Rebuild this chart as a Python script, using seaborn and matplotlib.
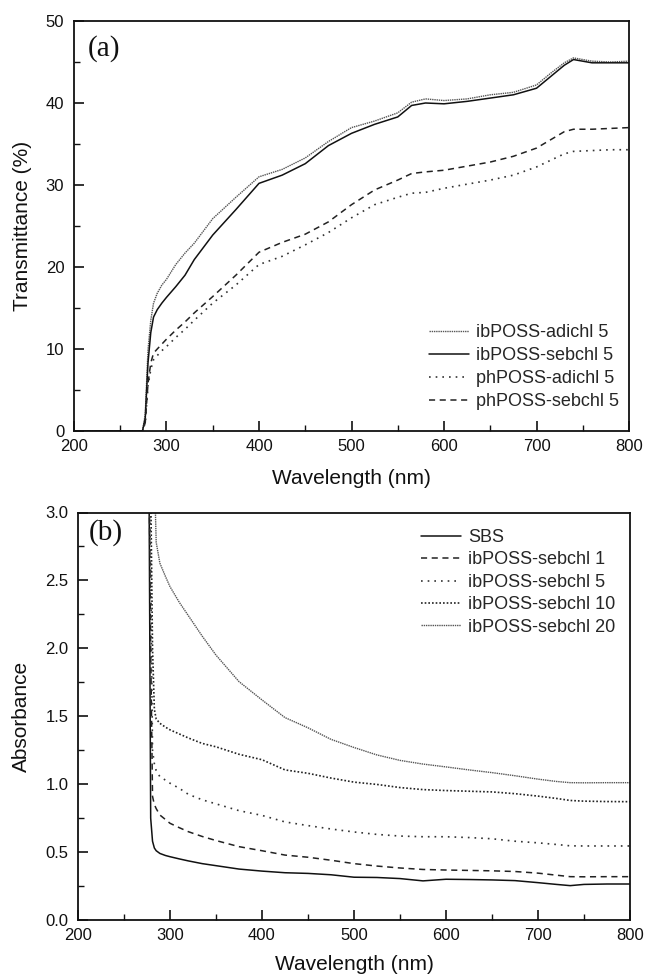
import numpy as np
import pandas as pd
import matplotlib
matplotlib.use("Agg")
import matplotlib.pyplot as plt
from matplotlib.ticker import MultipleLocator, FormatStrFormatter
import seaborn as sns

# ---------------- Panel (a) data: Transmittance (%) ----------------
wl_a = [200, 274, 277, 280, 283, 286, 290, 295, 300, 310, 320, 330, 350, 375, 400,
        425, 450, 475, 500, 525, 550, 565, 580, 600, 625, 650, 675, 700, 715, 730,
        740, 760, 780, 800]
ib_adichl5 = [0, 0, 2.0, 9.9, 13.5, 15.6, 16.8, 17.8, 18.5, 20.3, 21.7, 22.9, 25.9, 28.5, 31.0,
              31.9, 33.3, 35.3, 37.0, 37.8, 38.8, 40.1, 40.5, 40.3, 40.5, 41.0, 41.3, 42.2, 43.6, 44.9,
              45.5, 45.1, 45.0, 45.1]
ib_sebchl5 = [0, 0, 1.5, 8.3, 12.0, 13.9, 14.8, 15.6, 16.3, 17.6, 19.0, 20.9, 23.9, 27.0, 30.2,
              31.2, 32.6, 34.8, 36.3, 37.4, 38.3, 39.7, 40.0, 39.9, 40.2, 40.6, 41.0, 41.8, 43.2, 44.6,
              45.3, 44.9, 44.9, 44.9]
ph_adichl5 = [0, 0, 1.0, 5.5, 7.5, 8.7, 9.2, 9.8, 10.3, 11.4, 12.4, 13.5, 15.6, 17.8, 20.3,
              21.3, 22.7, 24.2, 26.0, 27.6, 28.5, 29.0, 29.1, 29.6, 30.1, 30.6, 31.2, 32.2, 33.0, 33.8,
              34.1, 34.2, 34.3, 34.3]
ph_sebchl5 = [0, 0, 1.0, 5.8, 8.3, 9.5, 10.0, 10.6, 11.2, 12.3, 13.3, 14.4, 16.4, 19.0, 21.8,
              23.0, 24.0, 25.5, 27.6, 29.4, 30.6, 31.4, 31.6, 31.8, 32.3, 32.8, 33.5, 34.5, 35.5, 36.5,
              36.8, 36.8, 36.9, 37.0]
labels_a = ["ibPOSS-adichl 5", "ibPOSS-sebchl 5", "phPOSS-adichl 5", "phPOSS-sebchl 5"]

# ---------------- Panel (b) data: Absorbance ----------------
wl_b = [275, 277, 279, 281, 283, 285, 289, 295, 300, 310, 320, 335, 350, 375, 400, 425,
        450, 475, 500, 525, 550, 575, 600, 625, 650, 675, 700, 720, 735, 750, 775, 800]
sbs = [3.5, 3.5, 0.75, 0.58, 0.53, 0.51, 0.49, 0.475, 0.466, 0.45, 0.435, 0.415, 0.40, 0.375, 0.36, 0.348,
       0.343, 0.333, 0.315, 0.313, 0.305, 0.288, 0.30, 0.298, 0.295, 0.29, 0.275, 0.262, 0.253, 0.262, 0.265, 0.265]
sebchl1 = [3.5, 3.5, 2.0, 0.91, 0.85, 0.82, 0.773, 0.74, 0.712, 0.68, 0.65, 0.615, 0.585, 0.54, 0.51, 0.478,
           0.462, 0.44, 0.415, 0.397, 0.383, 0.372, 0.368, 0.365, 0.362, 0.357, 0.345, 0.33, 0.319, 0.318, 0.319, 0.319]
sebchl5 = [3.5, 3.5, 2.6, 1.25, 1.15, 1.1, 1.055, 1.03, 1.007, 0.97, 0.925, 0.885, 0.855, 0.805, 0.77, 0.722,
           0.695, 0.67, 0.648, 0.63, 0.618, 0.613, 0.613, 0.607, 0.598, 0.58, 0.568, 0.556, 0.546, 0.545, 0.545, 0.545]
sebchl10 = [3.5, 3.5, 3.2, 2.0, 1.55, 1.48, 1.448, 1.42, 1.40, 1.37, 1.34, 1.30, 1.275, 1.22, 1.18, 1.105,
            1.08, 1.045, 1.015, 0.998, 0.975, 0.96, 0.953, 0.948, 0.943, 0.93, 0.912, 0.895, 0.88, 0.875, 0.872, 0.871]
sebchl20 = [3.5, 3.5, 3.5, 3.5, 3.3, 2.78, 2.627, 2.53, 2.454, 2.34, 2.24, 2.09, 1.95, 1.755, 1.62, 1.49,
            1.415, 1.33, 1.27, 1.215, 1.175, 1.148, 1.127, 1.105, 1.085, 1.062, 1.037, 1.02, 1.011, 1.01, 1.011, 1.011]
labels_b = ["SBS", "ibPOSS-sebchl 1", "ibPOSS-sebchl 5", "ibPOSS-sebchl 10", "ibPOSS-sebchl 20"]

sns.set_theme(style="white")
plt.rcParams['font.family'] = ['Liberation Sans', 'DejaVu Sans']

fig = plt.figure(figsize=(6.47, 9.77), dpi=100)
ax1 = fig.add_axes([74/647, 1-431/977, 555/647, 410/977])
ax2 = fig.add_axes([78/647, 1-920/977, 552/647, 407.5/977])

styles_a = [
    dict(color="#555555", linestyle=(0, (1, 0.6)), linewidth=1.0),
    dict(color="#111111", linestyle="-", linewidth=1.1),
    dict(color="#333333", linestyle=(0, (1, 3)), linewidth=1.2),
    dict(color="#222222", linestyle=(0, (4, 3)), linewidth=1.1),
]
for y, lab, st in zip([ib_adichl5, ib_sebchl5, ph_adichl5, ph_sebchl5], labels_a, styles_a):
    df = pd.DataFrame({"wl": wl_a, "v": y})
    sns.lineplot(data=df, x="wl", y="v", ax=ax1, label=lab, **st)

styles_b = [
    dict(color="#111111", linestyle="-", linewidth=1.1),
    dict(color="#222222", linestyle=(0, (4, 3)), linewidth=1.1),
    dict(color="#333333", linestyle=(0, (1, 3)), linewidth=1.2),
    dict(color="#222222", linestyle=(0, (1, 1.2)), linewidth=1.2),
    dict(color="#555555", linestyle=(0, (1, 0.6)), linewidth=1.0),
]
for y, lab, st in zip([sbs, sebchl1, sebchl5, sebchl10, sebchl20], labels_b, styles_b):
    df = pd.DataFrame({"wl": wl_b, "v": y})
    sns.lineplot(data=df, x="wl", y="v", ax=ax2, label=lab, **st)

ax1.set_xlim(200, 800)
ax1.set_ylim(0, 50)
ax2.set_xlim(200, 800)
ax2.set_ylim(0, 3.0)

ax1.xaxis.set_major_locator(MultipleLocator(100))
ax1.xaxis.set_minor_locator(MultipleLocator(50))
ax1.yaxis.set_major_locator(MultipleLocator(10))
ax1.yaxis.set_minor_locator(MultipleLocator(5))
ax2.xaxis.set_major_locator(MultipleLocator(100))
ax2.xaxis.set_minor_locator(MultipleLocator(50))
ax2.yaxis.set_major_locator(MultipleLocator(0.5))
ax2.yaxis.set_minor_locator(MultipleLocator(0.25))
ax2.yaxis.set_major_formatter(FormatStrFormatter('%.1f'))

for ax in (ax1, ax2):
    for sp in ax.spines.values():
        sp.set_color("#111111")
        sp.set_linewidth(1.3)
    ax.tick_params(which="major", direction="in", length=7, width=1.2, colors="#111111",
                   labelsize=12, bottom=True, left=True, top=False, right=False)
    ax.tick_params(which="minor", direction="in", length=4, width=1.0, colors="#111111",
                   bottom=True, left=True, top=False, right=False)
    ax.tick_params(axis="x", which="major", pad=6)
    ax.tick_params(axis="y", which="major", pad=7)
    ax.set_xlabel("Wavelength (nm)", fontsize=15, color="#111111", va="center")
    ax.grid(False)

ax1.set_ylabel("Transmittance (%)", fontsize=15, color="#111111", va="center")
ax2.set_ylabel("Absorbance", fontsize=15, color="#111111", va="center")
ax1.xaxis.set_label_coords(0.5, (431-479)/410)
ax2.xaxis.set_label_coords(0.5, (920-965)/407.5)
ax1.yaxis.set_label_coords((23-74)/555, 0.5)
ax2.yaxis.set_label_coords((21-78)/552, 0.5)

ax1.text(0.025, 0.965, "(a)", transform=ax1.transAxes, fontsize=21,
         family=["Liberation Serif", "DejaVu Serif"], va="top", ha="left", color="#111111")
ax2.text(0.02, 0.985, "(b)", transform=ax2.transAxes, fontsize=21,
         family=["Liberation Serif", "DejaVu Serif"], va="top", ha="left", color="#111111")

ax1.legend(loc="upper left", bbox_to_anchor=((429-74)/555, (431-324)/410), frameon=False,
           fontsize=13, handlelength=2.2, handletextpad=0.4, labelspacing=0.34,
           borderpad=0, borderaxespad=0)
ax2.legend(loc="upper left", bbox_to_anchor=((421-78)/552, (920-529)/407.5), frameon=False,
           fontsize=13, handlelength=2.2, handletextpad=0.4, labelspacing=0.3,
           borderpad=0, borderaxespad=0)

fig.savefig("out.png", dpi=100)
